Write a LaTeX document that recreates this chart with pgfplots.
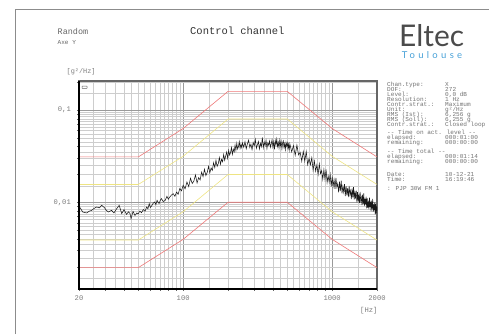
\documentclass[border=0pt]{standalone}
\usepackage{fontspec}
\setmainfont{Liberation Mono}
\newfontfamily\logofont{Lato}
\newfontfamily\toulfont[LetterSpace=35]{Lato}
\usepackage{pgfplots}
\pgfplotsset{compat=1.18}
\definecolor{lred}{RGB}{238,120,120}
\definecolor{lyel}{RGB}{238,228,130}
\definecolor{gridc}{RGB}{205,205,205}
\definecolor{txtg}{RGB}{125,125,125}
\definecolor{blue1}{RGB}{70,160,215}
\definecolor{logog}{RGB}{75,75,75}
\begin{document}
\begin{tikzpicture}
\begin{scope}[x=1bp,y=1bp]
\useasboundingbox (0,0) rectangle (489,334);
\draw[black!45, line width=1.8bp] (15.5,0) -- (15.5,324.5) -- (489,324.5);
% header
\node[anchor=base west, inner sep=0pt, font=\fontsize{10.5}{12}\selectfont, text=black!80] at (190,299.5) {Control channel};
\node[anchor=base west, inner sep=0pt, font=\fontsize{8.5}{10}\selectfont, text=black!60] at (57.5,299.5) {Random};
\node[anchor=base west, inner sep=0pt, font=\fontsize{6.1}{7}\selectfont, text=black!60] at (57.5,290) {Axe Y};
\node[anchor=base west, inner sep=0pt, text depth=0pt, font=\fontsize{30}{32}\selectfont\logofont, text=logog] at (399,288) {Eltec};
\node[anchor=base west, inner sep=0pt, text height=6pt, font=\fontsize{9.5}{10}\selectfont\toulfont, text=blue1] at (401.7,275.8) {Toulouse};
\node[anchor=base west, inner sep=0pt, font=\fontsize{6.9}{8}\selectfont, text=txtg] at (66.5,261) {[g²/Hz]};
\node[anchor=base west, inner sep=0pt, font=\fontsize{7.2}{8}\selectfont, text=txtg] at (360,21.5) {[Hz]};
\end{scope}
\begin{axis}[at={(79bp,45bp)}, anchor=south west, scale only axis,
  width=298bp, height=208bp,
  xmode=log, ymode=log,
  xmin=20, xmax=2000, ymin=0.00115, ymax=0.206,
  xtick={20,100,1000,2000}, xticklabels={20,100,1000,2000},
  minor xtick={25,30,35,40,45,50,55,60,65,70,75,80,85,90,95,150,200,250,300,350,400,450,500,550,600,650,700,750,800,850,900,950,1500},
  ytick={0.01,0.1}, yticklabels={{0,01},{0,1}},
  minor ytick={0.0015,0.002,0.0025,0.003,0.0035,0.004,0.0045,0.005,0.0055,0.006,0.0065,0.007,0.0075,0.008,0.0085,0.009,0.0095,0.015,0.02,0.025,0.03,0.035,0.04,0.045,0.05,0.055,0.06,0.065,0.07,0.075,0.08,0.085,0.09,0.095,0.15,0.2},
  grid=both,
  major grid style={gridc!75!black, line width=0.5bp},
  minor grid style={gridc, line width=0.5bp},
  axis line style={black!60, line width=1.1bp},
  tick align=outside, xtick pos=left, ytick pos=left,
  major tick length=2bp, minor tick length=0bp,
  tick style={black!60, line width=0.5bp},
  extra x ticks={30,40,50,60,70,80,90,200,300,400,500,600,700,800,900},
  extra x tick labels={},
  extra x tick style={grid=none, major tick length=1.8bp},
  extra y ticks={0.002,0.003,0.004,0.005,0.006,0.007,0.008,0.009,0.02,0.03,0.04,0.05,0.06,0.07,0.08,0.09,0.2},
  extra y tick labels={},
  extra y tick style={grid=none, major tick length=1.8bp},
  xticklabel style={font=\fontsize{7.2}{8}\selectfont, text=txtg, inner sep=0pt, yshift=-4bp},
  yticklabel style={font=\fontsize{7.2}{8}\selectfont, text=txtg, inner sep=0pt, xshift=-6bp},
  clip=true,
]
\addplot[lred, line width=0.6bp] coordinates {(20,0.031) (50,0.031) (100,0.063) (200,0.159) (500,0.159) (1000,0.063) (2000,0.031)};
\addplot[lyel, line width=0.6bp] coordinates {(20,0.0156) (50,0.0156) (100,0.0315) (200,0.0798) (500,0.0798) (1000,0.0315) (2000,0.0156)};
\addplot[lyel, line width=0.6bp] coordinates {(20,0.0039) (50,0.0039) (100,0.0079) (200,0.020) (500,0.020) (1000,0.0079) (2000,0.0039)};
\addplot[lred, line width=0.6bp] coordinates {(20,0.00196) (50,0.00196) (100,0.00397) (200,0.01) (500,0.01) (1000,0.00397) (2000,0.00196)};
\addplot[black!90, line width=0.55bp] coordinates {
(20,0.00833) (20.3,0.00876) (21.2,0.00785) (22.5,0.00766) (23.4,0.0080) (24.3,0.00818) (25.3,0.0086) (26.3,0.0089) (27.4,0.0087) (28.4,0.00927) (29.6,0.00876) (30.5,0.0082) (31.4,0.00785) (33.1,0.00818) (34.3,0.00766) (35.7,0.00847) (37.2,0.00927) (38.7,0.00754) (40.1,0.00833) (41.7,0.00741) (43,0.0079) (44,0.00754) (44.7,0.00665) (46.1,0.00798) (47.5,0.0072) (48.8,0.00766) (50,0.0075) (51.2,0.00805) (52.5,0.0077) (54,0.00833) (55.5,0.0080) (56.9,0.0089) (58,0.0085) (59.2,0.00968) (60.2,0.0088) (61.2,0.00906) (62.8,0.0097) (64.5,0.0101) (65.6,0.0094) (66.8,0.0105) (68.9,0.00968) (70,0.0104) (71.4,0.01097) (73.5,0.0102) (75.8,0.0105) (77.8,0.0116) (79.5,0.0108) (81,0.0113) (83.5,0.0120) (85.8,0.0124) (88,0.0116) (90.3,0.0129) (92.5,0.0122) (95,0.0141) (97.5,0.0133)
(100,0.0153) (103,0.0140) (106,0.0166) (109,0.0148) (112,0.0182) (115,0.0160) (118,0.0170) (121,0.0198) (124,0.0162) (127,0.0185) (130,0.0175) (133,0.0212) (136,0.0190) (139,0.0228) (142,0.0195) (145,0.0210) (148,0.0245) (151,0.0208) (154,0.0235) (157,0.0222) (160,0.0268) (163,0.0238) (166,0.0285) (169,0.0245) (172,0.0262) (175,0.0305) (178,0.0258) (181,0.0292) (184,0.0275) (187,0.0330) (190,0.0285) (193,0.0318) (196,0.0350) (199,0.0300) (202,0.0365) (205,0.0325) (208,0.0345) (211,0.0392) (214,0.0330) (217,0.0375) (220,0.0352) (223,0.0415) (226,0.0365) (229,0.0435) (232,0.0378) (235,0.0400) (238,0.0455) (241,0.0385) (244,0.0425) (247,0.0392) (250,0.0440)
(255,0.0395) (260,0.0452) (265,0.0380) (270,0.0430) (275,0.0470) (280,0.0392) (285,0.0425) (290,0.0372) (295,0.0445) (300,0.0410) (305,0.0480) (310,0.0385) (315,0.0420) (320,0.0455) (325,0.0378) (330,0.0435) (335,0.0400) (340,0.0505) (345,0.0390) (350,0.0448) (355,0.0412) (360,0.0470) (365,0.0382) (370,0.0440) (375,0.0415) (380,0.0462) (385,0.0395) (390,0.0428) (395,0.0475) (400,0.0398) (405,0.0450) (410,0.0375) (415,0.0468) (420,0.0420) (425,0.0485) (430,0.0402) (435,0.0445) (440,0.0388) (445,0.0470) (450,0.0410) (455,0.0455) (460,0.0380) (465,0.0440) (470,0.0462) (475,0.0395) (480,0.0430) (485,0.0372) (490,0.0445) (495,0.0405) (500,0.0440) (505,0.0385) (510,0.0425) (515,0.0368)
(520,0.0430) (535,0.0352) (550,0.0411) (565,0.0323) (580,0.0416) (595,0.0326) (610,0.0348) (625,0.0279) (640,0.0356) (655,0.0279) (670,0.0355) (685,0.0255) (700,0.0299) (715,0.0255) (730,0.0304) (745,0.0222) (760,0.0279) (775,0.0217) (790,0.0254) (805,0.0200) (820,0.0260) (835,0.0205) (850,0.0220) (865,0.0177) (880,0.0226) (895,0.0177) (910,0.0227) (925,0.0164) (940,0.0193) (955,0.0166) (970,0.0200) (985,0.0148) (1000,0.0189) (1015,0.0149) (1030,0.0176) (1045,0.0140) (1060,0.0184) (1075,0.0146) (1090,0.0159) (1105,0.0128) (1120,0.0167) (1135,0.0132) (1150,0.0172) (1165,0.0125) (1180,0.0149) (1195,0.0129) (1210,0.0157) (1225,0.0117) (1240,0.0150) (1255,0.0119) (1270,0.0142) (1285,0.0114) (1300,0.0151) (1315,0.0121) (1330,0.0133) (1345,0.0108) (1360,0.0141) (1375,0.0113) (1390,0.0146) (1405,0.0107) (1420,0.0128) (1435,0.0110) (1450,0.0134) (1465,0.0100) (1480,0.0129) (1495,0.0102) (1510,0.0122) (1525,0.0098) (1540,0.0130) (1555,0.0104) (1570,0.0113) (1585,0.0093) (1600,0.0121) (1615,0.0096) (1630,0.0125) (1645,0.0091) (1660,0.0109) (1675,0.0095) (1690,0.0115) (1705,0.0086) (1720,0.0110) (1735,0.0087) (1750,0.0104) (1765,0.0084) (1780,0.0112) (1795,0.0089) (1810,0.0098) (1825,0.0080) (1840,0.0104) (1855,0.0084) (1870,0.0109) (1885,0.0079) (1900,0.0095) (1915,0.0082) (1930,0.0099) (1945,0.0074) (1960,0.0096) (1975,0.0076) (1990,0.0090) (2000,0.0081)};
\end{axis}
\begin{scope}[x=1bp,y=1bp]
\draw[black, line width=1.3bp] (79,253) -- (79,45) -- (377,45);
\draw[black!60, line width=0.5bp, rounded corners=0.4bp] (82,248) rectangle (87,245.7);
% info panel
\begin{scope}[every node/.style={anchor=base west, inner sep=0pt, font=\fontsize{6.1}{6.1}\selectfont, text=black!55}]
\node at (387,247.2) {Chan.type:};      \node at (445,247.2) {X};
\node at (387,242.3) {DOF:};            \node at (445,242.3) {272};
\node at (387,237.4) {Level:};          \node at (445,237.4) {0,0 dB};
\node at (387,232.5) {Resolution:};     \node at (445,232.5) {1 Hz};
\node at (387,227.6) {Contr.strat.:};   \node at (445,227.6) {Maximum};
\node at (387,222.7) {Unit:};           \node at (445,222.7) {g²/Hz};
\node at (387,217.8) {RMS (Ist):};      \node at (445,217.8) {6,256 g};
\node at (387,212.9) {RMS (Soll):};     \node at (445,212.9) {6,255 g};
\node at (387,208.0) {Contr.strat.:};   \node at (445,208.0) {Closed loop};
\node at (387,199.5) {-{}- Time on act. level -{}-};
\node at (387,194.5) {elapsed:};        \node at (445,194.5) {000:01:00};
\node at (387,189.5) {remaining:};      \node at (445,189.5) {000:00:00};
\node at (387,180.1) {-{}- Time total -{}-};
\node at (387,175.1) {elapsed:};        \node at (445,175.1) {000:01:14};
\node at (387,170.5) {remaining:};      \node at (445,170.5) {000:00:00};
\node at (387,157.5) {Date:};           \node at (445,157.5) {10-12-21};
\node at (387,152.5) {Time:};           \node at (445,152.5) {16:19:46};
\node at (387,143.5) {: PJP 30W FM 1};
\end{scope}
\end{scope}
\end{tikzpicture}
\end{document}
